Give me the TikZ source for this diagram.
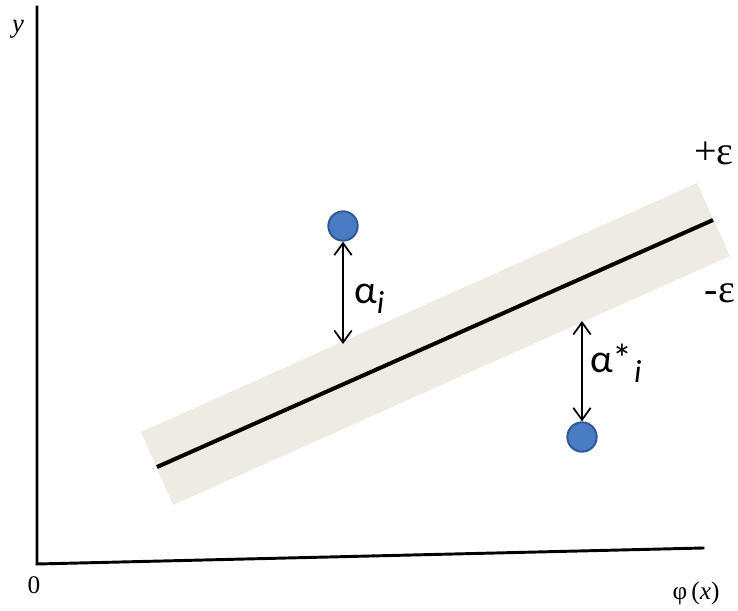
\documentclass[tikz,border=0pt]{standalone}
\usepackage{fontspec}
\setmainfont{Liberation Serif}
\newfontfamily\calfont{Carlito}
\usetikzlibrary{arrows.meta}
\definecolor{bandc}{HTML}{EDEBE2}
\definecolor{dotfill}{HTML}{4A7CC4}
\definecolor{dotdraw}{HTML}{2F5A98}
\newcommand{\subi}{\raisebox{-8pt}{\fontsize{24}{26}\selectfont\itshape i}}
\tikzset{
  axis/.style={line width=2.2pt, line cap=rect},
  dot/.style={circle, fill=dotfill, draw=dotdraw, line width=1.5pt, minimum size=22, inner sep=0},
  gap/.style={line width=1.3pt, {Straight Barb[length=9pt,width=13pt,line width=1.3pt]}-{Straight Barb[length=9pt,width=13pt,line width=1.3pt]}},
  lbl/.style={inner sep=0, font=\fontsize{19}{22}\selectfont},
  alab/.style={inner sep=0, font=\calfont\fontsize{30}{34}\selectfont},
}
\begin{document}
\begin{tikzpicture}[x=0.75pt,y=-0.75pt]
\useasboundingbox (0,0) rectangle (738,610);
% band
\fill[bandc] (141,432) -- (697,183) -- (730,256) -- (173,505) -- cycle;
% regression line
\coordinate (l1) at (157,467);
\coordinate (l2) at (713,220);
\draw[line width=3pt] (l1) -- (l2);
% axes
\coordinate (o) at (37,564);
\coordinate (ytop) at (37,7);
\coordinate (xend) at (703,548);
\draw[axis] (ytop) -- (o) -- (xend);
% labels
\node[lbl, font=\itshape\fontsize{20}{22}\selectfont] (ylab) at (18,29) {y};
\node[lbl] (zero) at (34,585) {0};
\node[lbl] (phi) at (696,593) {φ\,(\textit{x})};
\node[lbl, font=\fontsize{30}{32}\selectfont] (pe) at (714,153) {+ε};
\node[lbl, font=\fontsize{30}{32}\selectfont] (me) at (720,293) {-ε};
% points
\node[dot] (p1) at (343,226) {};
\node[dot] (p2) at (582,437) {};
\coordinate (b1) at (343,344);
\coordinate (b2) at (582,321);
\draw[gap] (p1.south) -- (b1);
\draw[gap] (b2) -- (p2.north);
\node[alab, anchor=base west] (a1) at (354,303) {α\subi};
\node[alab, anchor=base west] (a2) at (590,372) {α*\hspace{1pt}\subi};
\end{tikzpicture}
\end{document}
